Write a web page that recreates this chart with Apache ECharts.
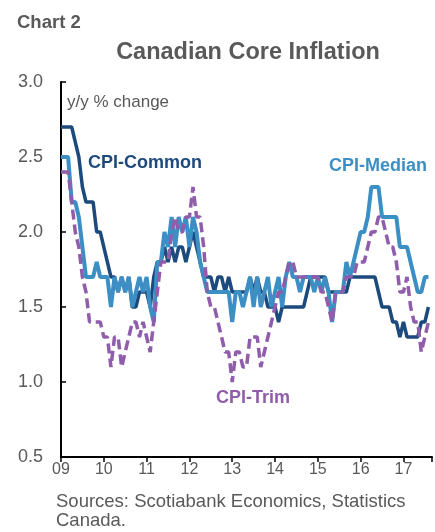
<!DOCTYPE html>
<html>
<head>
<meta charset="utf-8">
<script src="https://cdn.jsdelivr.net/npm/echarts@6/dist/echarts.min.js"></script>
<style>
  html, body { margin: 0; padding: 0; background: #fff; }
  #chart { width: 435px; height: 532px; }
</style>
</head>
<body>
<div id="chart"></div>
<script>
// monthly y/y % change, Jan 2009 .. Aug 2017
const yearLabels = ['09', '10', '11', '12', '13', '14', '15', '16', '17']

const cpiCommon = [
  2.7, 2.7, 2.7, 2.7, 2.6, 2.5, 2.3, 2.2, 2.2, 2.2, 2.0, 2.0,
  1.9, 1.8, 1.7, 1.7, 1.6, 1.7, 1.6, 1.7, 1.5, 1.5, 1.6, 1.6,
  1.6, 1.5, 1.7, 1.8, 1.8, 1.9, 1.8, 1.9, 1.8, 1.9, 1.9, 1.8,
  1.9, 2.0, 1.9, 1.8, 1.7, 1.7, 1.7, 1.6, 1.7, 1.7, 1.6, 1.7,
  1.6, 1.6, 1.6, 1.6, 1.6, 1.7, 1.6, 1.7, 1.6, 1.6, 1.5, 1.5,
  1.5, 1.4, 1.5, 1.5, 1.5, 1.5, 1.5, 1.5, 1.5, 1.6, 1.7, 1.7,
  1.7, 1.7, 1.7, 1.6, 1.6, 1.6, 1.6, 1.6, 1.6, 1.7, 1.7, 1.7,
  1.7, 1.7, 1.7, 1.7, 1.7, 1.6, 1.5, 1.5, 1.5, 1.4, 1.4, 1.3,
  1.4, 1.3, 1.3, 1.3, 1.3, 1.4, 1.4, 1.5
]

const cpiMedian = [
  2.5, 2.5, 2.5, 2.2, 2.2, 2.1, 1.9, 1.7, 1.7, 1.7, 1.8, 1.7,
  1.7, 1.7, 1.5, 1.7, 1.6, 1.7, 1.6, 1.7, 1.5, 1.6, 1.7, 1.6,
  1.7, 1.5, 1.4, 1.8, 1.8, 2.0, 1.9, 2.1, 1.9, 2.1, 2.0, 2.1,
  1.9, 2.1, 2.0, 1.8, 1.7, 1.6, 1.6, 1.6, 1.6, 1.6, 1.6, 1.6,
  1.4, 1.6, 1.6, 1.5, 1.6, 1.7, 1.5, 1.7, 1.5, 1.6, 1.7, 1.5,
  1.6, 1.7, 1.5, 1.7, 1.8, 1.7, 1.7, 1.6, 1.7, 1.7, 1.7, 1.6,
  1.7, 1.6, 1.7, 1.6, 1.4, 1.6, 1.6, 1.6, 1.8, 1.7, 1.8, 1.9,
  2.0, 2.0, 2.1, 2.3, 2.3, 2.3, 2.1, 2.1, 2.1, 2.1, 2.1, 1.9,
  1.9, 1.9, 1.8, 1.7, 1.6, 1.6, 1.7, 1.7
]

const cpiTrim = [
  2.4, 2.4, 2.4, 2.2, 2.0, 1.9, 1.7, 1.6, 1.4, 1.4, 1.4, 1.4,
  1.3, 1.3, 1.1, 1.3, 1.3, 1.1, 1.2, 1.3, 1.4, 1.4, 1.3, 1.4,
  1.3, 1.2, 1.4, 1.6, 1.8, 1.8, 1.8, 2.0, 2.1, 2.0, 2.0, 2.1,
  2.1, 2.3, 2.1, 2.1, 1.9, 1.6, 1.5, 1.5, 1.4, 1.3, 1.2, 1.2,
  1.0, 1.2, 1.2, 1.1, 1.1, 1.3, 1.3, 1.3, 1.1, 1.2, 1.3, 1.4,
  1.5, 1.6, 1.6, 1.7, 1.8, 1.8, 1.7, 1.7, 1.7, 1.7, 1.7, 1.7,
  1.7, 1.6, 1.6, 1.5, 1.4, 1.6, 1.6, 1.6, 1.7, 1.7, 1.7, 1.8,
  1.8, 1.8, 1.9, 2.0, 2.0, 2.1, 2.1, 2.0, 1.9, 1.9, 1.8, 1.6,
  1.6, 1.7, 1.5, 1.4, 1.4, 1.2, 1.3, 1.4
]

const FONT = '"Liberation Sans", Arial, sans-serif'
const GREY = '#595959'
const NAVY = '#1d4a7c'
const BLUE = '#3b8fc4'
const PURPLE = '#8f5dab'

const toPoints = arr => arr.map((v, i) => [i, v])

let myChart = echarts.init(document.getElementById('chart'))

let option = {
  animation: false,
  grid: { left: 61, right: 0, top: 82, bottom: 75 },
  xAxis: {
    type: 'value',
    min: 0,
    max: 104,
    interval: 12,
    axisLine: { show: true, lineStyle: { color: '#000', width: 2 } },
    axisTick: { show: true, length: 5, lineStyle: { color: '#000', width: 1.5 } },
    axisLabel: {
      color: GREY, fontSize: 16, fontFamily: FONT, margin: 5,
      formatter: v => (v % 12 === 0 && v / 12 < yearLabels.length) ? yearLabels[v / 12] : ''
    },
    splitLine: { show: false }
  },
  yAxis: {
    type: 'value',
    min: 0.5,
    max: 3.0,
    interval: 0.5,
    axisLine: { show: true, lineStyle: { color: '#000', width: 2 } },
    axisTick: { show: true, inside: true, length: 5, lineStyle: { color: '#000', width: 1.5 } },
    axisLabel: {
      color: GREY, fontSize: 18, fontFamily: FONT, margin: 18,
      formatter: v => v.toFixed(1)
    },
    splitLine: { show: false }
  },
  series: [
    {
      name: 'CPI-Common', type: 'line', showSymbol: false,
      data: toPoints(cpiCommon),
      lineStyle: { color: NAVY, width: 3.5 }
    },
    {
      name: 'CPI-Median', type: 'line', showSymbol: false,
      data: toPoints(cpiMedian),
      lineStyle: { color: BLUE, width: 4 }
    },
    {
      name: 'CPI-Trim', type: 'line', showSymbol: false,
      data: toPoints(cpiTrim),
      lineStyle: { color: PURPLE, width: 3.5, type: [10, 5] }
    }
  ],
  graphic: [
    { type: 'text', style: { x: 17, y: 23, text: 'Chart 2', fill: GREY, font: 'bold 18.5px ' + FONT, verticalAlign: 'middle' } },
    { type: 'text', style: { x: 248, y: 53, text: 'Canadian Core Inflation', fill: GREY, font: 'bold 23.5px ' + FONT, align: 'center', verticalAlign: 'middle' } },
    { type: 'text', style: { x: 67, y: 102, text: 'y/y % change', fill: GREY, font: '17px ' + FONT, verticalAlign: 'middle' } },
    { type: 'text', style: { x: 88, y: 163, text: 'CPI-Common', fill: NAVY, font: 'bold 18px ' + FONT, verticalAlign: 'middle' } },
    { type: 'text', style: { x: 329, y: 166, text: 'CPI-Median', fill: BLUE, font: 'bold 18px ' + FONT, verticalAlign: 'middle' } },
    { type: 'text', style: { x: 216, y: 398, text: 'CPI-Trim', fill: PURPLE, font: 'bold 18px ' + FONT, verticalAlign: 'middle' } },
    { type: 'text', style: { x: 56, y: 502, text: 'Sources: Scotiabank Economics, Statistics', fill: GREY, font: '18.5px ' + FONT, verticalAlign: 'middle' } },
    { type: 'text', style: { x: 56, y: 521, text: 'Canada.', fill: GREY, font: '18.5px ' + FONT, verticalAlign: 'middle' } }
  ]
}

myChart.setOption(option)
</script>
</body>
</html>
